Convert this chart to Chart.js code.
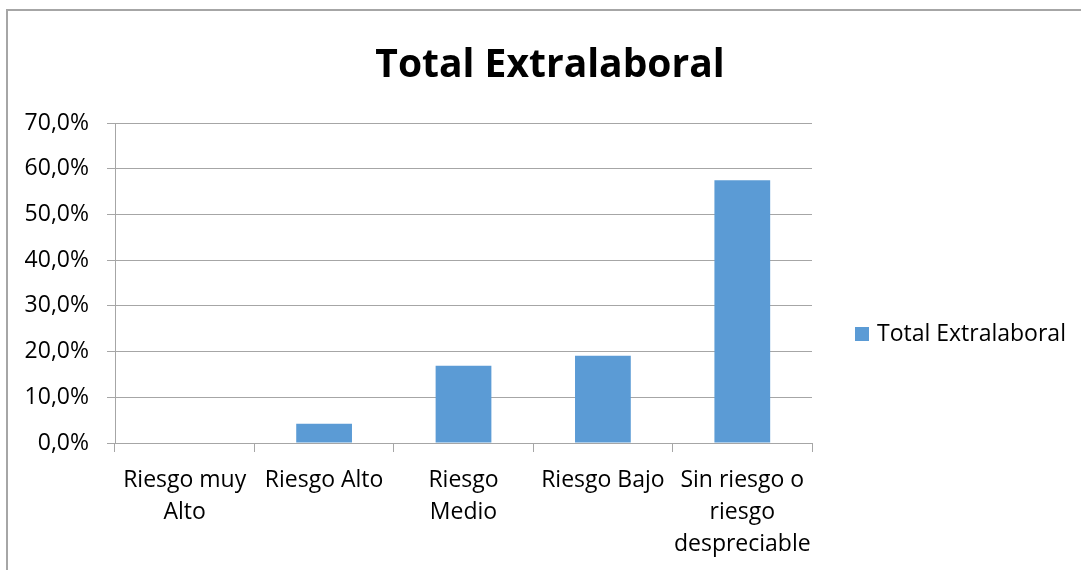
<!DOCTYPE html>
<html>
<head>
<meta charset="utf-8">
<title>Total Extralaboral</title>
<script src="https://cdn.jsdelivr.net/npm/chart.js@4.4.1/dist/chart.umd.min.js"></script>
<style>
  html, body { margin: 0; padding: 0; background: #ffffff; }
  #wrap { position: relative; width: 1081px; height: 570px; }
  canvas { display: block; }
</style>
</head>
<body>
<div id="wrap"><canvas id="chart" width="1081" height="570"></canvas></div>
<script>
// Risk levels on the x axis (multi-line labels as arrays)
const categories = [
  ['Riesgo muy', 'Alto'],
  'Riesgo Alto',
  ['Riesgo', 'Medio'],
  'Riesgo Bajo',
  ['Sin riesgo o', 'riesgo', 'despreciable']
];

// Share of people at each level, in percent
const seriesName = 'Total Extralaboral';
const seriesValues = [0.0, 4.2, 16.9, 19.1, 57.5];

// Value axis ticks, in percent
const yTicks = [0, 10, 20, 30, 40, 50, 60, 70];

const chartTitle = 'Total Extralaboral';

const FONT = "'Open Sans', 'Noto Sans', 'Liberation Sans', sans-serif";
const BAR_COLOR = '#5B9BD5';
const LINE_COLOR = '#A6A6A6';
const TEXT_COLOR = '#000000';

const fmtPct = v => v.toFixed(1).replace('.', ',') + '%';

// White background, outer frame, title and legend
const decorations = {
  id: 'decorations',
  beforeDraw(chart) {
    const ctx = chart.ctx;
    ctx.save();
    ctx.fillStyle = '#ffffff';
    ctx.fillRect(0, 0, chart.width, chart.height);
    ctx.strokeStyle = LINE_COLOR;
    ctx.lineWidth = 2;
    ctx.beginPath();
    ctx.moveTo(7, chart.height);
    ctx.lineTo(7, 10);
    ctx.lineTo(chart.width, 10);
    ctx.stroke();
    ctx.restore();
  },
  afterDraw(chart) {
    const ctx = chart.ctx;
    ctx.save();
    // title
    ctx.fillStyle = TEXT_COLOR;
    ctx.font = "bold 39px " + FONT;
    ctx.textAlign = 'center';
    ctx.textBaseline = 'alphabetic';
    ctx.fillText(chartTitle, 550, 77);
    // legend
    const ds = chart.data.datasets[0];
    ctx.fillStyle = ds.backgroundColor;
    ctx.fillRect(855, 327, 14, 14);
    ctx.fillStyle = TEXT_COLOR;
    ctx.font = "23px " + FONT;
    ctx.textAlign = 'left';
    ctx.textBaseline = 'middle';
    ctx.fillText(ds.label, 877, 334);
    ctx.restore();
  }
};

new Chart(document.getElementById('chart'), {
  type: 'bar',
  data: {
    labels: categories,
    datasets: [{
      label: seriesName,
      data: seriesValues,
      backgroundColor: BAR_COLOR,
      borderWidth: 0,
      barPercentage: 0.4,
      categoryPercentage: 1.0
    }]
  },
  options: {
    responsive: false,
    animation: false,
    devicePixelRatio: 1,
    layout: { padding: { left: 0, top: 123, right: 269, bottom: 0 } },
    plugins: {
      legend: { display: false },
      title: { display: false },
      tooltip: { enabled: false }
    },
    scales: {
      x: {
        type: 'category',
        afterFit(scale) { scale.height = 127; },
        grid: {
          offset: true,
          drawOnChartArea: false,
          drawTicks: true,
          tickLength: 9,
          color: LINE_COLOR,
          lineWidth: 1
        },
        border: { display: true, color: LINE_COLOR, width: 1 },
        ticks: {
          autoSkip: false,
          maxRotation: 0,
          minRotation: 0,
          padding: 12,
          color: TEXT_COLOR,
          font: { family: FONT, size: 23, lineHeight: '32px' }
        }
      },
      y: {
        min: yTicks[0],
        max: yTicks[yTicks.length - 1],
        afterFit(scale) { scale.width = 115; },
        afterBuildTicks(scale) { scale.ticks = yTicks.map(v => ({ value: v })); },
        grid: {
          drawTicks: true,
          tickLength: 8,
          color: LINE_COLOR,
          lineWidth: 1
        },
        border: { display: true, color: LINE_COLOR, width: 1 },
        ticks: {
          padding: 18,
          color: TEXT_COLOR,
          font: { family: FONT, size: 23 },
          callback: v => fmtPct(v)
        }
      }
    }
  },
  plugins: [decorations]
});
</script>
</body>
</html>
